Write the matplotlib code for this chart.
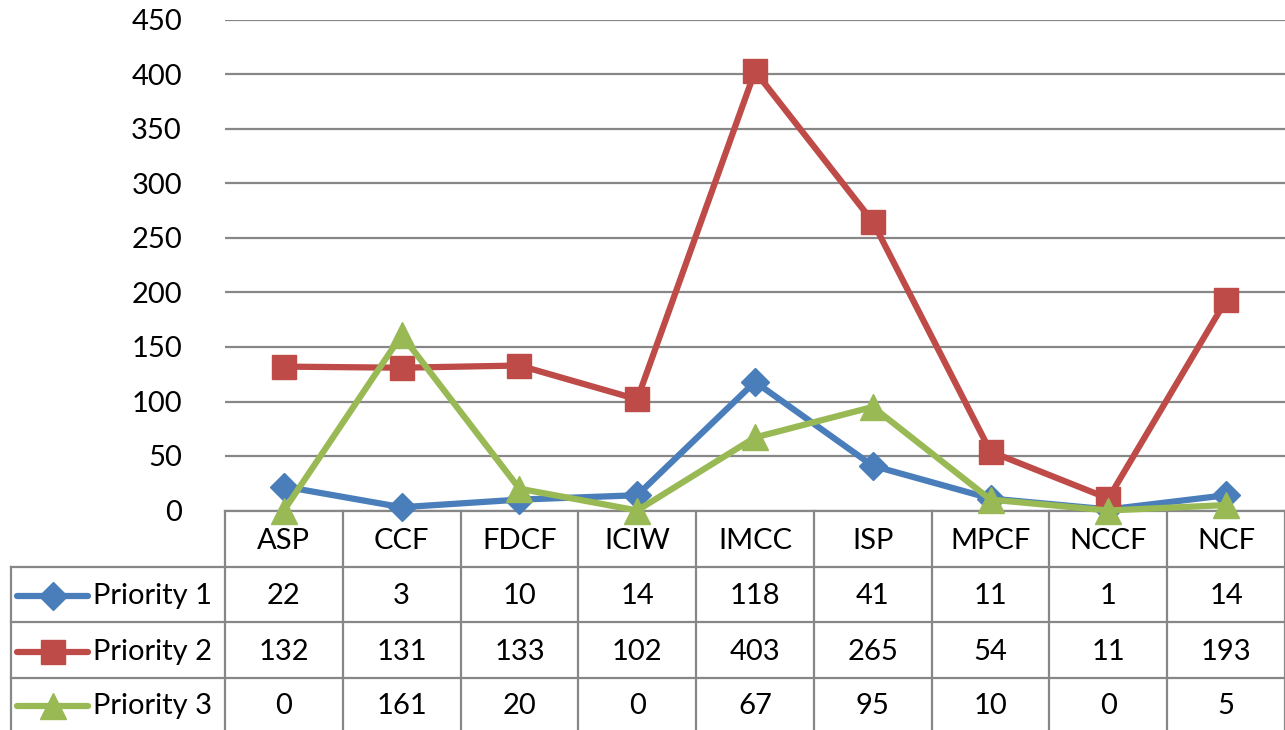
import matplotlib
matplotlib.use("Agg")
import matplotlib.pyplot as plt
from matplotlib.transforms import blended_transform_factory

plt.rcParams['font.family'] = ['Lato', 'DejaVu Sans']
plt.rcParams['font.size'] = 21

categories = ['ASP', 'CCF', 'FDCF', 'ICIW', 'IMCC', 'ISP', 'MPCF', 'NCCF', 'NCF']
priority1 = [22, 3, 10, 14, 118, 41, 11, 1, 14]
priority2 = [132, 131, 133, 102, 403, 265, 54, 11, 193]
priority3 = [0, 161, 20, 0, 67, 95, 10, 0, 5]
series_names = ['Priority 1', 'Priority 2', 'Priority 3']
yticks = [0, 50, 100, 150, 200, 250, 300, 350, 400, 450]

colors = ['#4A7EBB', '#BE4B48', '#98B954']
markers = ['D', 's', '^']
msizes = [14, 17, 19]
grid_c = '#878787'
lw = 4.5

W, H = 1285, 730
fig = plt.figure(figsize=(W / 100, H / 100), dpi=100)

# full-figure axes in pixel units for the data table underneath
tab = fig.add_axes([0, 0, 1, 1])
tab.set_xlim(0, W)
tab.set_ylim(H, 0)
tab.axis('off')

# chart area
x0, y_zero, y_top = 225, 510.5, 20
ax = fig.add_axes([x0 / W, (H - y_zero) / H, (W - x0) / W, (y_zero - y_top) / H])
ax.patch.set_alpha(0)
ax.set_xlim(-0.5, len(categories) - 0.5)
ax.set_ylim(0, 450)
ax.set_yticks(yticks)
ax.set_xticks([])
ax.tick_params(axis='y', length=0, pad=31, labelcolor='black')
for s in ax.spines.values():
    s.set_visible(False)
ax.grid(axis='y', color=grid_c, linewidth=1.6)
ax.set_axisbelow(True)

data = [priority1, priority2, priority3]
xs = range(len(categories))
for vals, c, m, ms in zip(data, colors, markers, msizes):
    ax.plot(xs, vals, color=c, linewidth=lw, marker=m, markersize=ms,
            markeredgecolor=c, clip_on=False, zorder=3)

# data table
tr = blended_transform_factory(ax.transData, tab.transData)
row_edges = [y_zero, 566.7, 621.5, 677.7, H]
left_edge = 11
for y in row_edges[:-1]:
    xstart = left_edge if y > y_zero else x0
    tab.plot([xstart, W], [y, y], color=grid_c, linewidth=1.6)
tab.plot([left_edge, left_edge], [row_edges[1], H], color=grid_c, linewidth=1.6)
for i in range(len(categories) + 1):
    tab.plot([i - 0.5, i - 0.5], [y_zero, H], color=grid_c, linewidth=1.6,
             transform=tr)

hdr_y = (row_edges[0] + row_edges[1]) / 2 + 2
for i, cat in enumerate(categories):
    tab.text(i, hdr_y, cat, transform=tr, ha='center', va='center')

for r, (vals, name, c, m, ms) in enumerate(zip(data, series_names, colors,
                                                markers, msizes)):
    yc = (row_edges[r + 1] + row_edges[r + 2]) / 2 + 2
    tab.plot([17, 88], [yc, yc], color=c, linewidth=lw, solid_capstyle='round')
    tab.plot([53], [yc], marker=m, markersize=ms, color=c, markeredgecolor=c)
    tab.text(93, yc, name, ha='left', va='center')
    for i, v in enumerate(vals):
        tab.text(i, yc, str(v), transform=tr, ha='center', va='center')

fig.savefig('out.png', dpi=100)
